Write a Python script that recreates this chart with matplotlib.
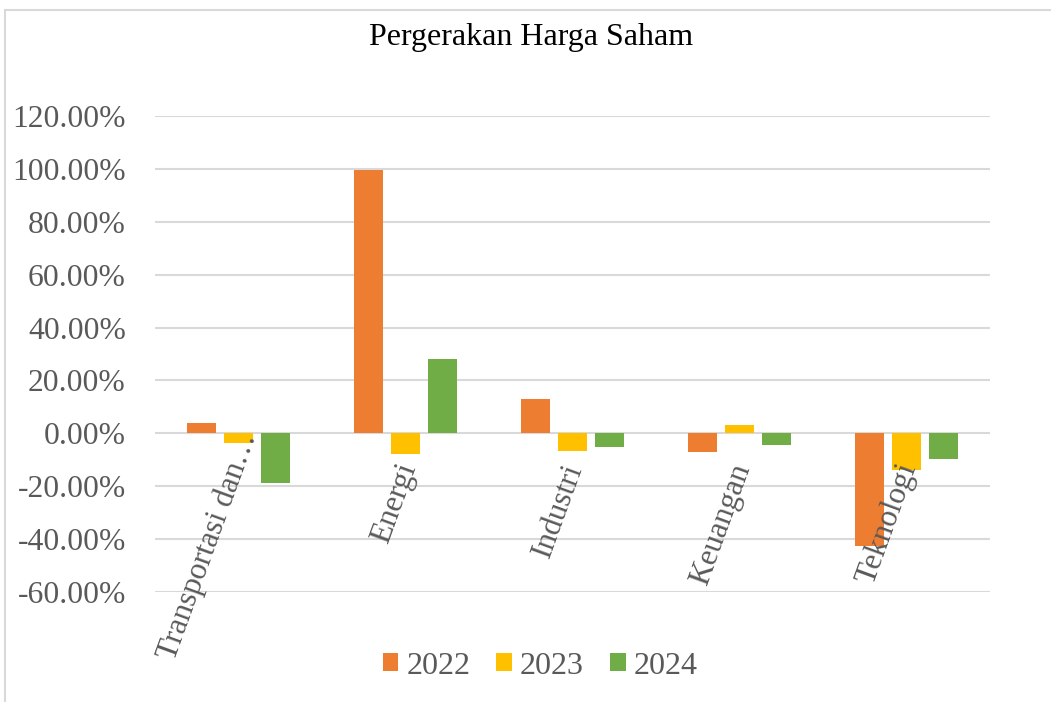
import numpy as np
import matplotlib
matplotlib.use('Agg')
import matplotlib.pyplot as plt
from matplotlib.patches import Rectangle

categories = ['Transportasi dan…', 'Energi', 'Industri', 'Keuangan', 'Teknologi']
years = ['2022', '2023', '2024']
v2022 = [3.8, 99.7, 13.1, -7.1, -42.6]
v2023 = [-3.7, -7.8, -6.8, 3.1, -14.0]
v2024 = [-18.7, 28.0, -5.3, -4.4, -9.7]
colors = ['#ED7D31', '#FFC000', '#70AD47']
yticks = [-60, -40, -20, 0, 20, 40, 60, 80, 100, 120]

plt.rcParams['font.family'] = ['Liberation Serif', 'DejaVu Serif']

fig = plt.figure(figsize=(10.51, 7.02), dpi=100)
ax = fig.add_axes([155/1051, 1 - 592/702, 835/1051, 476/702])

# chart frame
fig.patches.append(Rectangle((5/1051, -0.05), 1.1, 1 - 10/702 + 0.05,
                             transform=fig.transFigure, fill=False,
                             edgecolor='#d9d9d9', linewidth=1.5))

x = np.arange(len(categories))
w = 0.175
off = 0.222
for i, (vals, c, yr) in enumerate(zip([v2022, v2023, v2024], colors, years)):
    ax.bar(x + (i - 1) * off, vals, w, color=c, label=yr, zorder=3)

ax.set_xlim(-0.5, len(categories) - 0.5)
ax.set_ylim(-60, 120)
ax.set_yticks(yticks)
ax.set_yticklabels(['%.2f%%' % t for t in yticks], fontsize=22.8, color='#595959')
ax.tick_params(axis='y', length=0, pad=21)
ax.set_xticks([])
ax.grid(axis='y', color='#d9d9d9', linewidth=1.5, zorder=0)
for s in ax.spines.values():
    s.set_visible(False)

# rotated category labels (truncated label sits right under the axis, like excel)
for xi, cat in zip(x, categories):
    if cat.endswith('…'):
        lx, ly = xi + 0.11, -1.2
    else:
        lx, ly = xi + 0.06, -12.8
    ax.text(lx, ly, cat, rotation=70, rotation_mode='anchor',
            ha='right', va='baseline', fontsize=22.5, color='#595959',
            zorder=4)

fig.text(531.5/1051, 1 - 37/702, 'Pergerakan Harga Saham', ha='center', va='center',
         fontsize=23, color='black')

fig.legend(loc='center', bbox_to_anchor=(540/1051, 1 - 666/702), ncol=3,
           frameon=False, fontsize=23, handlelength=0.5, handleheight=0.5,
           handletextpad=0.25, columnspacing=0.8, labelcolor='#595959')

fig.savefig('out.png', dpi=100)
